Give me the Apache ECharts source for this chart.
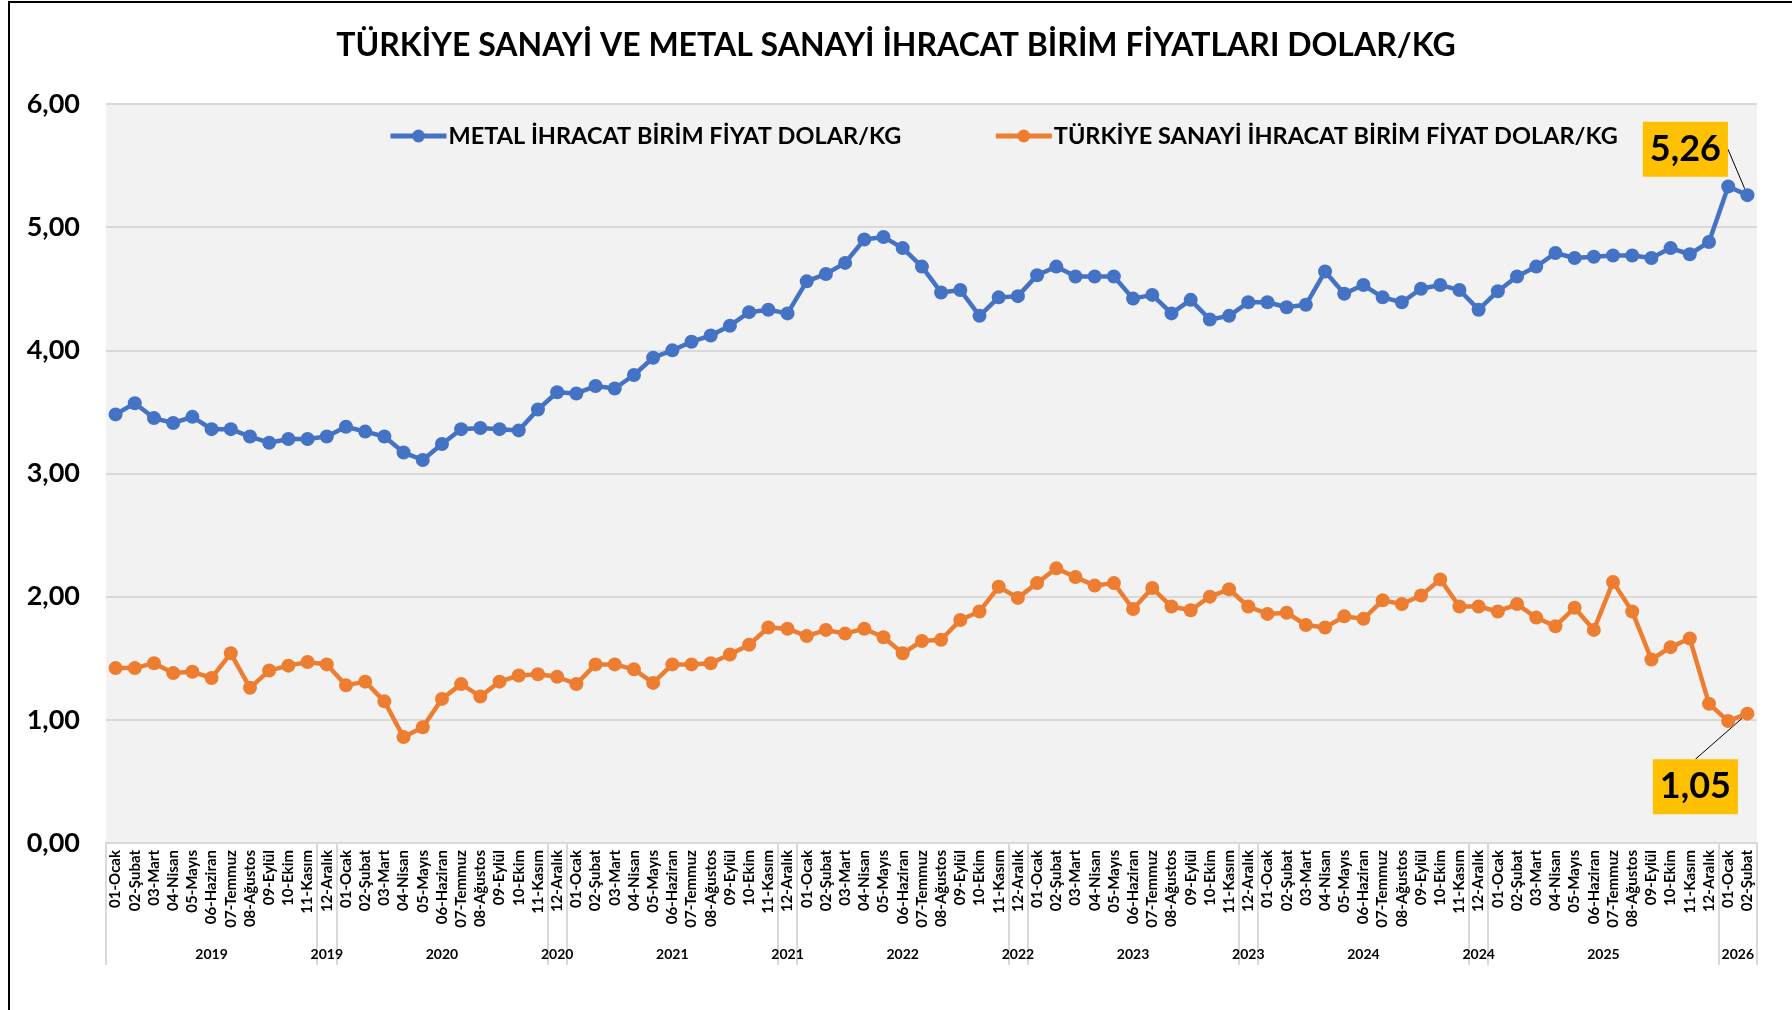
<!DOCTYPE html>
<html>
<head>
<meta charset="utf-8">
<script src="https://cdn.jsdelivr.net/npm/echarts@6/dist/echarts.min.js"></script>
<style>
  html, body { margin: 0; padding: 0; background: #fff; }
  #frame { position: absolute; left: 8px; top: 1px; right: 0; bottom: 0; border-left: 2px solid #000; border-top: 2px solid #000; }
  #chart { position: absolute; left: 0; top: 0; width: 1792px; height: 1010px; }
</style>
</head>
<body>
<div id="frame"></div>
<div id="chart"></div>
<script>
const monthNames = ['01-Ocak', '02-Şubat', '03-Mart', '04-Nisan', '05-Mayıs', '06-Haziran',
  '07-Temmuz', '08-Ağustos', '09-Eylül', '10-Ekim', '11-Kasım', '12-Aralık']

const yearList = ['2019', '2020', '2021', '2022', '2023', '2024', '2025']
const lastYear = '2026'
const lastYearMonths = 2
// years whose Aralık sits in its own group on the excel axis
const aralikSplitYears = ['2019', '2020', '2021', '2022', '2023', '2024']

const metal = [
  3.48, 3.57, 3.45, 3.41, 3.46, 3.36, 3.36, 3.30, 3.25, 3.28, 3.28, 3.30,
  3.38, 3.34, 3.30, 3.17, 3.11, 3.24, 3.36, 3.37, 3.36, 3.35, 3.52, 3.66,
  3.65, 3.71, 3.69, 3.80, 3.94, 4.00, 4.07, 4.12, 4.20, 4.31, 4.33, 4.30,
  4.56, 4.62, 4.71, 4.90, 4.92, 4.83, 4.68, 4.47, 4.49, 4.28, 4.43, 4.44,
  4.61, 4.68, 4.60, 4.60, 4.60, 4.42, 4.45, 4.30, 4.41, 4.25, 4.28, 4.39,
  4.39, 4.35, 4.37, 4.64, 4.46, 4.53, 4.43, 4.39, 4.50, 4.53, 4.49, 4.33,
  4.48, 4.60, 4.68, 4.79, 4.75, 4.76, 4.77, 4.77, 4.75, 4.83, 4.78, 4.88,
  5.33, 5.26,
]

const sanayi = [
  1.42, 1.42, 1.46, 1.38, 1.39, 1.34, 1.54, 1.26, 1.40, 1.44, 1.47, 1.45,
  1.28, 1.31, 1.15, 0.86, 0.94, 1.17, 1.29, 1.19, 1.31, 1.36, 1.37, 1.35,
  1.29, 1.45, 1.45, 1.41, 1.30, 1.45, 1.45, 1.46, 1.53, 1.61, 1.75, 1.74,
  1.68, 1.73, 1.70, 1.74, 1.67, 1.54, 1.64, 1.65, 1.81, 1.88, 2.08, 1.99,
  2.11, 2.23, 2.16, 2.09, 2.11, 1.90, 2.07, 1.92, 1.89, 2.00, 2.06, 1.92,
  1.86, 1.87, 1.77, 1.75, 1.84, 1.82, 1.97, 1.94, 2.01, 2.14, 1.92, 1.92,
  1.88, 1.94, 1.83, 1.76, 1.91, 1.73, 2.12, 1.88, 1.49, 1.59, 1.66, 1.13,
  0.99, 1.05,
]

const yTicks = [0, 1, 2, 3, 4, 5, 6]

// build month / year category columns (like excel's two-level axis)
const months = []
const years = []
yearList.forEach((y) => monthNames.forEach((m) => { months.push(m); years.push(y) }))
for (let i = 0; i < lastYearMonths; i++) { months.push(monthNames[i]); years.push(lastYear) }

const groupStarts = []
months.forEach((m, i) => {
  if (i === 0 || years[i] !== years[i - 1]) groupStarts.push(i)
  else if (m === '12-Aralık' && aralikSplitYears.includes(years[i])) groupStarts.push(i)
})
const yearLabelAt = {}
groupStarts.forEach((s, k) => {
  const e = k + 1 < groupStarts.length ? groupStarts[k + 1] : months.length
  yearLabelAt[(s + e) / 2] = years[s]
})

const fmt = (v) => v.toFixed(2).replace('.', ',')
const FONT = 'Lato'

const calloutLabel = {
  show: true,
  position: 'inside',
  formatter: (p) => fmt(p.value),
  backgroundColor: '#FFC000',
  color: '#000',
  fontFamily: FONT,
  fontWeight: 'bold',
  fontSize: 36,
  lineHeight: 40,
  padding: [8, 7, 7, 7],
}

// only the last point of each line gets the yellow callout
const withCallout = (arr) => arr.map((v, i) => (i === arr.length - 1 ? { value: v, label: calloutLabel } : v))

const chart = echarts.init(document.getElementById('chart'), null, { renderer: 'canvas' })

chart.setOption({
  animation: false,
  textStyle: { fontFamily: FONT },
  title: {
    text: 'TÜRKİYE SANAYİ VE METAL SANAYİ İHRACAT BİRİM FİYATLARI DOLAR/KG',
    left: 'center',
    top: 25,
    textStyle: { fontFamily: FONT, fontWeight: 'bold', fontSize: 32, color: '#000' },
  },
  legend: {
    left: 383,
    top: 119,
    itemWidth: 56,
    itemHeight: 16,
    itemGap: 92,
    lineStyle: { width: 5 },
    textStyle: { fontFamily: FONT, fontWeight: 'bold', fontSize: 23.5, color: '#000', padding: [0, 0, 0, -3] },
  },
  grid: {
    left: 106, right: 35, top: 104, bottom: 167,
    show: true, backgroundColor: '#F2F2F2', borderWidth: 0,
  },
  xAxis: [
    {
      type: 'category',
      data: months,
      boundaryGap: true,
      axisLine: { lineStyle: { color: '#D9D9D9', width: 2 } },
      axisTick: {
        show: true,
        length: 122,
        interval: (i) => groupStarts.includes(i),
        lineStyle: { color: '#D9D9D9', width: 2 },
      },
      axisLabel: {
        interval: 0,
        rotate: 90,
        margin: 7,
        fontFamily: FONT,
        fontWeight: 'bold',
        fontSize: 15,
        color: '#000',
      },
      splitLine: { show: false },
    },
    {
      type: 'value',
      position: 'bottom',
      min: 0,
      max: months.length,
      interval: 0.5,
      axisLine: { show: false },
      axisTick: { show: false },
      splitLine: { show: false },
      axisLabel: {
        margin: 104,
        fontFamily: FONT,
        fontWeight: 'bold',
        fontSize: 14,
        color: '#000',
        formatter: (v) => yearLabelAt[v] || '',
      },
    },
  ],
  yAxis: {
    type: 'value',
    min: yTicks[0],
    max: yTicks[yTicks.length - 1],
    interval: 1,
    axisLine: { show: false },
    axisTick: { show: false },
    axisLabel: {
      margin: 26,
      fontFamily: FONT,
      fontWeight: 'bold',
      fontSize: 27,
      color: '#000',
      formatter: fmt,
    },
    splitLine: { lineStyle: { color: '#D9D9D9', width: 2 } },
  },
  series: [
    {
      name: 'METAL İHRACAT BİRİM FİYAT DOLAR/KG',
      type: 'line',
      data: withCallout(metal),
      symbol: 'circle',
      symbolSize: 14,
      lineStyle: { color: '#4472C4', width: 4.5 },
      itemStyle: { color: '#4472C4' },
      labelLine: { show: true, lineStyle: { color: '#000', width: 1 } },
      labelLayout: { dx: -62, dy: -46 },
    },
    {
      name: 'TÜRKİYE SANAYİ İHRACAT BİRİM FİYAT DOLAR/KG',
      type: 'line',
      data: withCallout(sanayi),
      symbol: 'circle',
      symbolSize: 14,
      lineStyle: { color: '#ED7D31', width: 4.5 },
      itemStyle: { color: '#ED7D31' },
      labelLine: { show: true, lineStyle: { color: '#000', width: 1 } },
      labelLayout: { dx: -52, dy: 73 },
    },
  ],
})
</script>
</body>
</html>
